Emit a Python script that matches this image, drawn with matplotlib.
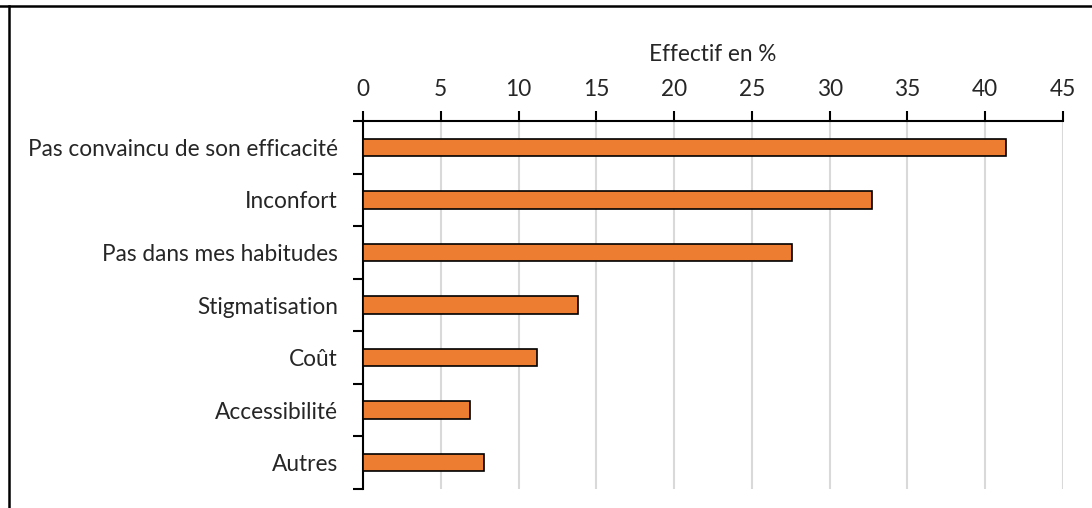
import matplotlib.pyplot as plt
import numpy as np
from matplotlib.lines import Line2D

# reasons for not using it, share of respondents (%)
categories = ["Pas convaincu de son efficacité", "Inconfort", "Pas dans mes habitudes",
              "Stigmatisation", "Coût", "Accessibilité", "Autres"]
values = [41.35, 32.75, 27.6, 13.8, 11.2, 6.9, 7.8]
xticks = [0, 5, 10, 15, 20, 25, 30, 35, 40, 45]

plt.rcParams['font.family'] = ['Lato', 'DejaVu Sans']
txt = '#262626'
fs = 16.3

fig = plt.figure(figsize=(10.92, 5.08), dpi=100)
ax = fig.add_axes([0.3324, 0.0374, 0.641, 0.7244])

y = np.arange(len(categories))
ax.barh(y, values, height=0.33, color='#ED7D31', edgecolor='black', linewidth=1.2, zorder=3)

ax.set_ylim(len(categories) - 0.5, -0.5)
ax.set_xlim(0, 45)
ax.set_yticks(y)
ax.set_yticklabels(categories, fontsize=fs, color=txt)
ax.set_yticks(np.arange(len(categories) + 1) - 0.5, minor=True)
ax.tick_params(axis='y', which='minor', length=7, width=1.5, direction='out')
ax.tick_params(axis='y', which='major', length=0, pad=18)

ax.xaxis.tick_top()
ax.xaxis.set_label_position('top')
ax.set_xticks(xticks)
ax.set_xticklabels([str(t) for t in xticks], fontsize=fs, color=txt)
ax.tick_params(axis='x', length=7, width=1.5, direction='out', pad=8)
ax.set_xlabel('Effectif en %', fontsize=fs, color=txt, labelpad=13)
ax.grid(axis='x', color='#d9d9d9', linewidth=1.5, zorder=0)

for s in ['right', 'bottom']:
    ax.spines[s].set_visible(False)
for s in ['top', 'left']:
    ax.spines[s].set_linewidth(1.5)

# outer frame lines (top and left)
fig.add_artist(Line2D([0, 1], [0.989, 0.989], transform=fig.transFigure, color='black', lw=1.8))
fig.add_artist(Line2D([0.0078, 0.0078], [0, 0.989], transform=fig.transFigure, color='black', lw=1.8))

fig.savefig('out.png', dpi=100)
